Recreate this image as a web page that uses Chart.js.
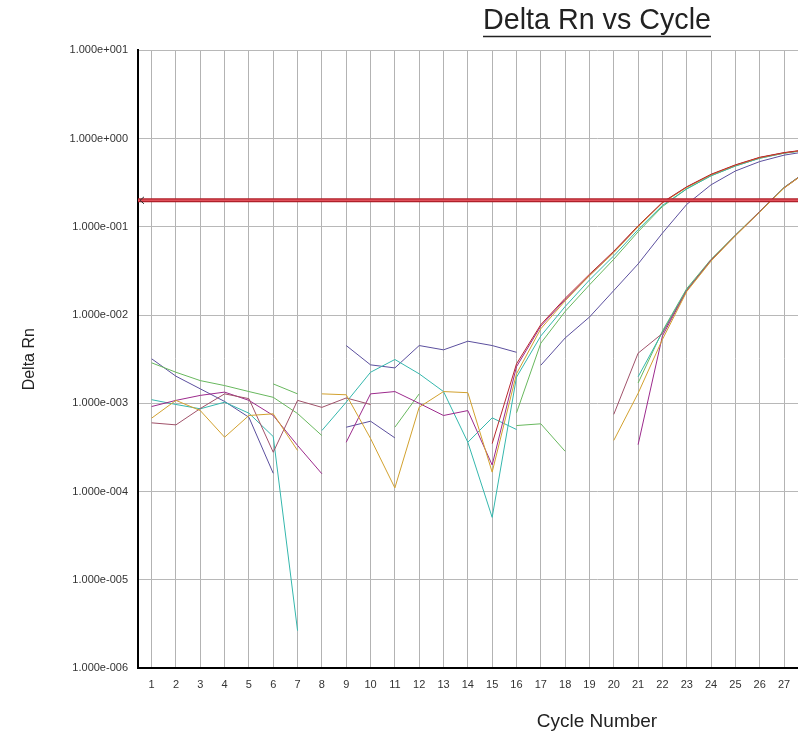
<!DOCTYPE html>
<html>
<head>
<meta charset="utf-8">
<script src="https://cdn.jsdelivr.net/npm/chart.js@4/dist/chart.umd.min.js"></script>
<style>
  html, body { margin: 0; padding: 0; background: #ffffff; overflow: hidden; }
  #wrap { width: 798px; height: 735px; overflow: hidden; position: relative; }
  canvas { display: block; }
</style>
</head>
<body>
<div id="wrap"><canvas id="c" width="1194" height="735"></canvas></div>
<script>
// ---- data (cycle 1..28) ----
const n = null;
const cycles = [1,2,3,4,5,6,7,8,9,10,11,12,13,14,15,16,17,18,19,20,21,22,23,24,25,26,27,28];
const cycleTicks = [1,2,3,4,5,6,7,8,9,10,11,12,13,14,15,16,17,18,19,20,21,22,23,24,25,26,27];
const yTickValues = [1e-6, 1e-5, 1e-4, 1e-3, 1e-2, 1e-1, 1, 10];
const threshold = 0.2;

const slateWell1 = [0.0032,0.00203,0.00146,0.00105,0.000695,0.000161,n,n,0.000536,0.000627,0.000406,n,n,n,n,n,
                    0.0027,0.0055,0.0095,0.019,0.038,0.085,0.18,0.30,0.43,0.55,0.65,0.72];
const slateWell2 = [n,n,n,n,n,n,n,n,0.00452,0.00273,0.00252,0.00452,0.00404,0.00506,0.00452,0.00379,
                    n,n,n,n,n,n,n,n,n,n,n,n];
const greenWell1 = [0.00288,0.00225,0.00181,0.00159,0.00136,0.00117,0.000766,0.000431,n,n,0.000536,0.00128,n,n,n,0.00078,
                    0.0048,0.011,0.022,0.043,0.088,0.17,0.27,0.38,0.49,0.60,0.685,0.745];
const greenWell2 = [n,n,n,n,n,0.00166,0.00128,n,n,n,n,n,n,n,n,0.00056,0.000586,0.000286,n,n,
                    0.0017,0.0066,0.020,0.043,0.081,0.150,0.280,0.44];
const tealWell1  = [0.0011,0.00097,0.000867,0.00103,0.000773,0.00042,0.00000265,n,n,n,n,n,n,0.000362,0.000685,0.000505,
                    n,n,n,n,0.0020,0.0064,0.0195,0.042,0.080,0.149,0.278,0.44];
const tealWell2  = [n,n,n,n,n,n,n,0.000492,0.00103,0.00225,0.00314,0.00216,0.00136,0.000362,0.000051,0.00198,
                    0.0058,0.0125,0.025,0.047,0.093,0.175,0.27,0.38,0.49,0.60,0.685,0.745];
const magentaWell1 = [0.00092,0.00108,0.00123,0.00134,0.00108,0.000728,0.000333,0.000159,n,n,n,n,n,n,n,n,
                      n,n,n,n,0.00034,0.0058,0.019,0.042,0.080,0.148,0.276,0.435];
const magentaWell2 = [n,n,n,n,n,n,n,n,0.000362,0.00128,0.00136,0.0010,0.000728,0.000828,0.0002,0.0026,
                      0.0075,0.015,0.028,0.052,0.101,0.188,0.283,0.39,0.50,0.61,0.69,0.75];
const brownWell = [0.000601,0.00057,0.000873,0.00128,0.00113,0.000279,0.00108,0.0009,0.00115,0.00097,n,n,n,n,n,n,
                   n,n,n,0.00075,0.0037,0.0062,0.019,0.042,0.080,0.149,0.279,0.44];
const goldWell1 = [0.000679,0.00108,0.000828,0.000413,0.000728,0.00076,0.000292,n,n,n,n,n,n,n,n,n,
                   n,n,n,0.00038,0.0013,0.0053,0.0185,0.041,0.079,0.147,0.275,0.435];
const goldWell2 = [n,n,n,n,n,n,n,0.00128,0.00125,0.0004,0.00011,0.000904,0.00136,0.00132,0.000166,0.00216,
                   0.0070,0.0145,0.028,0.051,0.10,0.187,0.28,0.39,0.50,0.61,0.69,0.75];
const redWell = [n,n,n,n,n,n,n,n,n,n,n,n,n,n,0.00035,0.0028,
                 0.0078,0.0155,0.029,0.053,0.103,0.19,0.285,0.395,0.505,0.615,0.695,0.755];

const COLORS = {
  slate: '#5b4f9e', green: '#68b85e', teal: '#35b7ad', magenta: '#9c2a8c',
  brown: '#a0526a', gold: '#d2a12e', red: '#b8282e',
  threshOuter: '#b0202a', threshInner: '#e0505a'
};

function pts(arr) { return arr.map((v, i) => ({ x: cycles[i], y: v })); }
function ds(label, arr, color) {
  return { label, data: pts(arr), borderColor: color, backgroundColor: color,
           borderWidth: 1, pointRadius: 0, fill: false, tension: 0, spanGaps: false };
}

const fontFam = "'Liberation Sans', Arial, sans-serif";
const xMin = 0.44, xMax = 38.18;

const underlineTitle = {
  id: 'underlineTitle',
  afterDraw(chart) {
    const tb = chart.titleBlock;
    if (!tb) return;
    const opts = chart.options.plugins.title;
    const ctx = chart.ctx;
    const size = opts.font.size;
    ctx.save();
    ctx.font = size + 'px ' + fontFam;
    const w = ctx.measureText(opts.text).width;
    const cx = (tb.left + tb.right) / 2;
    const cy = tb.top + opts.padding.top + size * 1.2 / 2;
    const uy = Math.round(cy + size * 0.5) + 0.5;
    ctx.strokeStyle = '#222';
    ctx.lineWidth = 1.5;
    ctx.beginPath();
    ctx.moveTo(cx - w / 2, uy);
    ctx.lineTo(cx + w / 2, uy);
    ctx.stroke();
    ctx.restore();
  }
};

const thresholdArrow = {
  id: 'thresholdArrow',
  afterDatasetsDraw(chart) {
    const x = chart.scales.x, y = chart.scales.y;
    const py = y.getPixelForValue(threshold);
    const px = x.getPixelForValue(xMin) + 2;
    const ctx = chart.ctx;
    ctx.save();
    ctx.strokeStyle = '#333';
    ctx.lineWidth = 1;
    ctx.beginPath();
    ctx.moveTo(px + 4, py - 3.5);
    ctx.lineTo(px, py);
    ctx.lineTo(px + 4, py + 3.5);
    ctx.stroke();
    ctx.restore();
  }
};

function fmtExp(v) {
  const e = Math.round(Math.log10(v));
  const sign = e < 0 ? '-' : '+';
  const a = String(Math.abs(e)).padStart(3, '0');
  return '1.000e' + sign + a;
}

const threshData = [{ x: xMin, y: threshold }, { x: xMax, y: threshold }];

new Chart(document.getElementById('c'), {
  type: 'line',
  data: {
    datasets: [
      { label: 'Threshold', data: threshData, borderColor: COLORS.threshInner, borderWidth: 1.5,
        pointRadius: 0, fill: false },
      { label: 'Threshold edge', data: threshData, borderColor: COLORS.threshOuter, borderWidth: 4,
        pointRadius: 0, fill: false },
      ds('W12', redWell, COLORS.red),
      ds('W11', goldWell2, COLORS.gold),
      ds('W10', goldWell1, COLORS.gold),
      ds('W9', brownWell, COLORS.brown),
      ds('W8', magentaWell2, COLORS.magenta),
      ds('W7', magentaWell1, COLORS.magenta),
      ds('W6', tealWell2, COLORS.teal),
      ds('W5', tealWell1, COLORS.teal),
      ds('W4', greenWell2, COLORS.green),
      ds('W3', greenWell1, COLORS.green),
      ds('W2', slateWell2, COLORS.slate),
      ds('W1', slateWell1, COLORS.slate)
    ]
  },
  options: {
    responsive: false,
    animation: false,
    events: [],
    layout: { padding: 0 },
    plugins: {
      legend: { display: false },
      tooltip: { enabled: false },
      title: {
        display: true,
        text: 'Delta Rn vs Cycle',
        color: '#222',
        font: { family: fontFam, size: 28.7, weight: 'normal' },
        padding: { top: 4, bottom: 12 }
      }
    },
    scales: {
      x: {
        type: 'linear',
        min: xMin, max: xMax,
        afterBuildTicks: s => { s.ticks = cycleTicks.map(v => ({ value: v })); },
        afterFit: s => { s.height = 67; },
        ticks: { color: '#333', font: { family: fontFam, size: 11 }, padding: 10,
                 maxRotation: 0, autoSkip: false, callback: v => String(v) },
        grid: { color: '#b3b3b3', lineWidth: 1, drawTicks: false },
        border: { color: '#000', width: 2 },
        title: { display: true, text: 'Cycle Number', color: '#222',
                 font: { family: fontFam, size: 19 }, padding: { top: 0, bottom: 2 } }
      },
      y: {
        type: 'logarithmic',
        min: 1e-6, max: 10,
        afterBuildTicks: s => { s.ticks = yTickValues.map(v => ({ value: v })); },
        afterFit: s => { s.width = 138; },
        ticks: { color: '#333', font: { family: fontFam, size: 11 }, padding: 10,
                 autoSkip: false, callback: v => fmtExp(v) },
        grid: { color: '#b8b8b8', lineWidth: 1, drawTicks: false },
        border: { color: '#000', width: 2 },
        title: { display: true, text: 'Delta Rn', color: '#222',
                 font: { family: fontFam, size: 16 }, padding: { top: 20, bottom: 0 } }
      },
      yRightSpace: {
        type: 'linear',
        position: 'right',
        display: true,
        afterFit: s => { s.width = 138; },
        ticks: { display: false },
        grid: { display: false, drawOnChartArea: false },
        border: { display: false },
        title: { display: false }
      }
    }
  },
  plugins: [underlineTitle, thresholdArrow]
});
</script>
</body>
</html>
